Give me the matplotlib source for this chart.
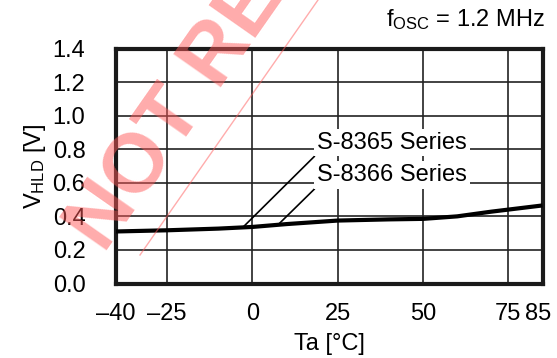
import numpy as np
import matplotlib
matplotlib.use("Agg")
import matplotlib.pyplot as plt
from matplotlib.lines import Line2D
from matplotlib.transforms import ScaledTranslation

plt.rcParams['font.family'] = ['Liberation Sans', 'DejaVu Sans']
plt.rcParams['mathtext.fontset'] = 'custom'
plt.rcParams['mathtext.rm'] = 'Liberation Sans'
plt.rcParams['mathtext.it'] = 'Liberation Sans'

# data
temp = [-40, -25, -10, 0, 10, 25, 40, 50, 60, 70, 85]
vhld = [0.31, 0.317, 0.327, 0.337, 0.354, 0.375, 0.382, 0.385, 0.40, 0.428, 0.465]

x_ticks = [-40, -25, 0, 25, 50, 75, 85]
x_labels = ['\u201340', '\u201325', '0', '25', '50', '75', '85']
y_ticks = [0.0, 0.2, 0.4, 0.6, 0.8, 1.0, 1.2, 1.4]

labels = ['S-8365 Series', 'S-8366 Series']
label_pos = [(19.0, 0.84), (19.0, 0.645)]
leader_end = [(-2.8, 0.335), (7.9, 0.358)]

fig = plt.figure(figsize=(5.57, 3.58), dpi=100)
ax = fig.add_axes([116 / 557, 1 - 283.5 / 358, 426.5 / 557, 235 / 358])

ax.plot(temp, vhld, color='black', lw=3.0, solid_capstyle='butt', zorder=3)

ax.set_xlim(-40, 85)
ax.set_ylim(0, 1.4)
ax.set_xticks(x_ticks)
ax.set_xticklabels(x_labels)
ax.set_yticks(y_ticks)
ax.set_yticklabels([f'{v:.1f}' for v in y_ticks])
ax.tick_params(length=0, labelsize=17)
ax.tick_params(axis='x', pad=14)
ax.tick_params(axis='y', pad=22)
# 85 sits right on the edge, nudge it left a little
lbl = ax.get_xticklabels()[-1]
lbl.set_transform(lbl.get_transform() + ScaledTranslation(-4 / 100, 0, fig.dpi_scale_trans))

ax.grid(True, color='#222222', lw=1.2)
ax.set_axisbelow(True)
for s in ax.spines.values():
    s.set_linewidth(3.0)
    s.set_color('#1a1a1a')

ax.set_xlabel('Ta [°C]', fontsize=17, labelpad=6)
ax.set_ylabel('V$_{\\mathrm{HLD}}$ [V]', fontsize=17, labelpad=3)

for txt, pos, end in zip(labels, label_pos, leader_end):
    ax.annotate(txt, xy=end, xytext=pos, fontsize=17, ha='left', va='center',
                bbox=dict(boxstyle='square,pad=0.12', fc='white', ec='none'),
                arrowprops=dict(arrowstyle='-', color='black', lw=1.2,
                                shrinkA=0, shrinkB=0, relpos=(0, 0)),
                zorder=4)

fig.text(545 / 557, 1 - 26 / 358, 'f$_{\\mathrm{OSC}}$ = 1.2 MHz', fontsize=17,
         ha='right', va='baseline')

# watermark (runs off the top of the picture, as in the original)
fig.text(104 / 557, 1 - 254 / 358, 'NOT RECOMMENDED', fontsize=60, fontweight='bold',
         color='#ff5a5a', alpha=0.5, rotation=55, rotation_mode='anchor',
         ha='left', va='baseline', zorder=10)
fig.add_artist(Line2D([140 / 557, 318 / 557], [1 - 255 / 358, 1.0],
                      color='#ff5a5a', alpha=0.5, lw=1.0, zorder=10))

fig.savefig('out.png', dpi=100)
